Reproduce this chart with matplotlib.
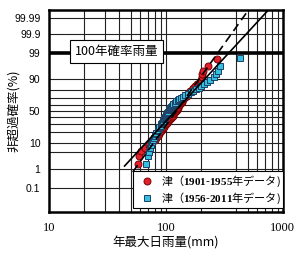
import statistics

import matplotlib
matplotlib.use('Agg')
import matplotlib.pyplot as plt
import numpy as np

plt.rcParams['font.family'] = ['Noto Sans CJK JP', 'DejaVu Sans']
plt.rcParams['mathtext.fontset'] = 'custom'
plt.rcParams['mathtext.bf'] = 'Liberation Serif:bold'

# annual max daily rainfall at Tsu (mm), sorted ascending
rain_1901_1955 = [57.5, 59, 61.5, 66, 72, 76, 80, 83, 85, 87.5, 89, 91, 93, 95,
                  97, 99, 101, 103, 104.5, 106, 108, 110, 112, 114, 116, 118, 120, 122,
                  123.5, 125, 126.5, 128, 130, 132, 134, 136, 138, 141, 144, 147, 150,
                  154, 158, 162, 166, 171, 178, 185, 194, 198, 202, 205, 208, 228, 271]
rain_1956_2011 = [68, 70, 72, 73, 74, 76, 78, 79, 80, 82, 83, 85, 86, 87,
                  88, 90, 91, 93, 94, 95, 96, 97, 98.5, 100, 101, 102, 103, 104,
                  105.5, 107, 108.5, 110, 112, 114, 116, 119, 122, 126, 130, 135, 140,
                  147, 155, 163, 172, 181, 190, 200, 212, 226, 240, 256, 270, 280, 292, 428]

# log-normal fits (log10 mean, log10 std)
fit_old = (2.089, 0.1526)
fit_new = (2.08, 0.197)

prob_grid = [0.1, 1, 5, 10, 20, 30, 40, 50, 60, 70, 80, 90, 99, 99.9, 99.99]
prob_ticks = [0.1, 1, 10, 50, 90, 99, 99.9, 99.99]
x_grid = [20, 30, 40, 50, 60, 70, 80, 90, 100, 200, 400, 500, 600, 700, 800, 900]
x_ticks = [10, 100, 1000]

nd = statistics.NormalDist()


def pz(p):
    return nd.inv_cdf(p / 100.0)


def weibull_z(n):
    return [nd.inv_cdf(i / (n + 1)) for i in range(1, n + 1)]


fig = plt.figure(figsize=(3.0, 2.57), dpi=100)
ax = fig.add_axes([0.163, 0.175, 0.78, 0.786])
ax.set_xscale('log')
ax.set_xlim(10, 1000)
ax.set_ylim(-4.04, 4.04)

for p in prob_grid:
    ax.axhline(pz(p), color='#222222', lw=0.8, zorder=1)
for x in x_grid:
    ax.axvline(x, color='#222222', lw=0.8, zorder=1)
ax.axhline(pz(99), color='black', lw=2.6, zorder=2)

ax.plot(rain_1901_1955, weibull_z(len(rain_1901_1955)), 'o', ms=5,
        mfc='#e0202a', mec='#7a0000', mew=0.7, zorder=3,
        label=r'津（$\mathbf{1901}$-$\mathbf{1955}$年データ)')
ax.plot(rain_1956_2011, weibull_z(len(rain_1956_2011)), 's', ms=5,
        mfc='#35c0e0', mec='#1d3f66', mew=0.7, zorder=4,
        label=r'津（$\mathbf{1956}$-$\mathbf{2011}$年データ)')

zz = np.linspace(-2.44, 4.5, 50)
ax.plot(10 ** (fit_old[0] + fit_old[1] * zz), zz, color='black', lw=1.2,
        ls=(0, (5, 3)), zorder=5)
zz = np.linspace(-2.2, 4.5, 50)
ax.plot(10 ** (fit_new[0] + fit_new[1] * zz), zz, color='black', lw=1.2, zorder=5)

ax.set_yticks([pz(p) for p in prob_ticks])
ax.set_yticklabels([f'{p:g}' for p in prob_ticks], family='Liberation Sans', fontsize=7.5)
ax.set_xticks(x_ticks)
ax.set_xticklabels([str(v) for v in x_ticks], family='Liberation Serif', fontsize=9)
ax.xaxis.set_minor_locator(matplotlib.ticker.NullLocator())
ax.tick_params(axis='y', length=0, pad=6)
ax.tick_params(axis='x', length=0, pad=7)
for s in ax.spines.values():
    s.set_linewidth(1.8)
    s.set_zorder(6)

ax.text(0.11, 0.795, '100年確率雨量', transform=ax.transAxes, fontsize=9,
        ha='left', va='center', zorder=7,
        bbox=dict(boxstyle='square,pad=0.4', fc='white', ec='black', lw=0.8))

leg = ax.legend(loc='lower right', bbox_to_anchor=(1.0, 0.02), borderaxespad=0,
                fontsize=8, fancybox=False, framealpha=1, edgecolor='black',
                handletextpad=0.15, handlelength=2.2, borderpad=0.2, labelspacing=0.15)
leg.get_frame().set_linewidth(0.8)
leg.set_zorder(8)

fig.text(0.045, 0.57, '非超過確率(%)', fontsize=9, rotation=90,
         ha='center', va='center')
ax.set_xlabel('年最大日雨量(mm)', fontsize=9, labelpad=2)

fig.savefig('out.png', dpi=100)
